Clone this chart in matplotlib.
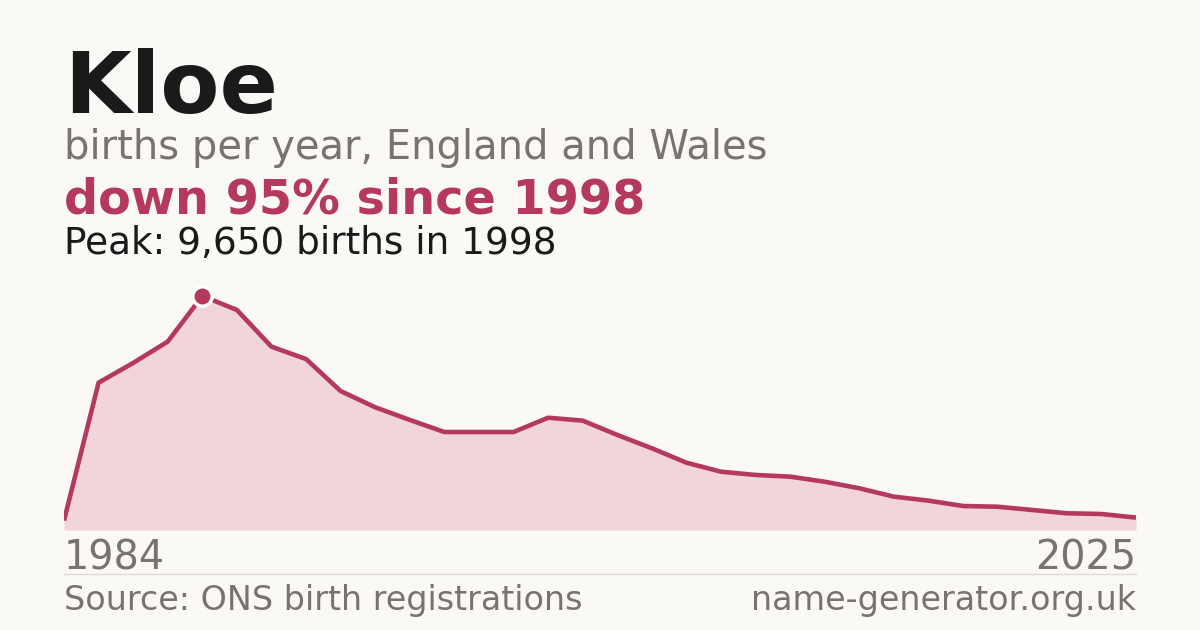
import matplotlib
matplotlib.use("Agg")
import matplotlib.pyplot as plt

# data (births per year, England and Wales)
years = [1984, 1995, 1996, 1997, 1998, 1999, 2000, 2001, 2002, 2003, 2004,
         2005, 2006, 2007, 2008, 2009, 2010, 2011, 2012, 2013, 2014, 2015,
         2016, 2017, 2018, 2019, 2020, 2021, 2022, 2023, 2024, 2025]
births = [390, 6075, 6890, 7770, 9650, 9075, 7560, 7050, 5730, 5060, 4540,
          4040, 4040, 4040, 4630, 4510, 3920, 3370, 2775, 2405, 2270, 2200,
          1990, 1720, 1375, 1210, 990, 960, 825, 690, 660, 510]
peak_year = 1998
name = "Kloe"

BG = "#faf9f5"
RED = "#b5395a"
FILL = "#f1d5db"
GREY = "#78746d"
INK = "#1a1a1a"

W, H = 1200, 630
fig = plt.figure(figsize=(W / 100, H / 100), dpi=100, facecolor=BG)

# plot area in pixel terms
left, right, bottom, top = 64, 1136, 530, 296
ax = fig.add_axes([left / W, (H - bottom) / H, (right - left) / W, (bottom - top) / H])
ax.set_facecolor(BG)
ax.patch.set_alpha(0)

xs = list(range(len(years)))
ax.fill_between(xs, births, 0, color=FILL, lw=0, zorder=1)
ax.plot(xs, births, color=RED, lw=3.3, solid_capstyle="butt", solid_joinstyle="round", zorder=2)

pk = years.index(peak_year)
ax.plot(xs[pk], births[pk], "o", ms=14, color=RED, mec="white", mew=2.5, zorder=3, clip_on=False)

ax.set_xlim(0, len(years) - 1)
ax.set_ylim(0, max(births))
ax.axis("off")

# header text
fig.text(left / W, 1 - 113 / H, name, fontsize=62, fontweight="bold", color=INK, va="baseline")
fig.text(left / W, 1 - 159 / H, "births per year, England and Wales", fontsize=28.8, color=GREY, va="baseline")
drop = round((1 - births[-1] / births[pk]) * 100)
fig.text(left / W, 1 - 214 / H, f"down {drop}% since {peak_year}", fontsize=34.4, fontweight="bold",
         color=RED, va="baseline")
fig.text(left / W, 1 - 254 / H, f"Peak: {births[pk]:,} births in {peak_year}", fontsize=26.9, color=INK,
         va="baseline")

# x end labels
fig.text(left / W, 1 - 570 / H, str(years[0]), fontsize=28.6, color=GREY, va="baseline", ha="left")
fig.text(right / W, 1 - 570 / H, str(years[-1]), fontsize=28.6, color=GREY, va="baseline", ha="right")

# separator and footer
fig.add_artist(plt.Line2D([left / W, right / W], [1 - 574 / H, 1 - 574 / H], color="#dedbd3", lw=1))
fig.text(left / W, 1 - 610 / H, "Source: ONS birth registrations", fontsize=24, color=GREY, va="baseline")
fig.text(right / W, 1 - 610 / H, "name-generator.org.uk", fontsize=24, color=GREY, va="baseline", ha="right")

fig.savefig("out.png", dpi=100, facecolor=BG)
